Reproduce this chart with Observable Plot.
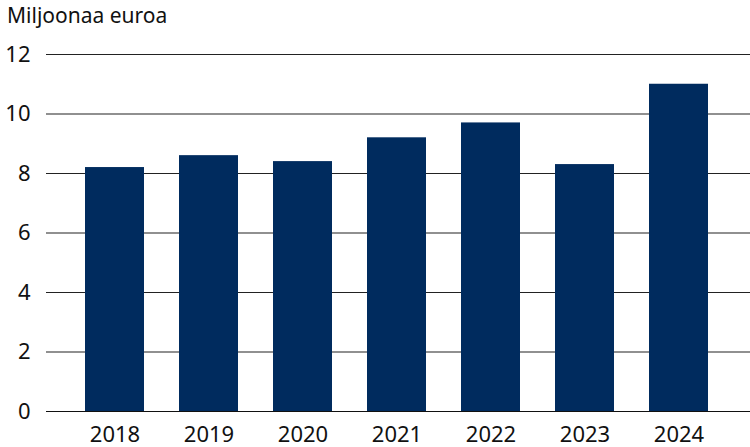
<!DOCTYPE html>
<html>
<head>
<meta charset="utf-8">
<script src="https://cdn.jsdelivr.net/npm/d3@7"></script>
<script src="https://cdn.jsdelivr.net/npm/@observablehq/plot@0.6"></script>
<style>
  html, body { margin: 0; padding: 0; background: #fff; }
  #title { font-family: "Noto Sans", sans-serif; font-size: 21px; line-height: 30px; height: 30px; padding-left: 7px; color: #111; }
  svg { display: block; }
</style>
</head>
<body>
<div id="title">Miljoonaa euroa</div>
<div id="chart"></div>
<script>
const years = ["2018", "2019", "2020", "2021", "2022", "2023", "2024"];
const values = [8.2, 8.6, 8.4, 9.2, 9.7, 8.3, 11.0];
const yTicks = [0, 2, 4, 6, 8, 10, 12];

const data = years.map((year, i) => ({year, value: values[i]}));

const chart = Plot.plot({
  width: 750,
  height: 417,
  marginTop: 24,
  marginBottom: 36,
  marginLeft: 46,
  marginRight: 0,
  style: {fontFamily: "Noto Sans, sans-serif", fontSize: "22px", color: "#111", background: "#fff"},
  x: {domain: years, paddingInner: 0.372, paddingOuter: 0.415, insetRight: 2, label: null, tickSize: 0, tickPadding: 15},
  y: {domain: [0, 12], ticks: yTicks, label: null, tickSize: 0, tickPadding: 16},
  marks: [
    Plot.ruleY(yTicks.filter(d => d > 0), {stroke: "#222", strokeWidth: 1.2}),
    Plot.barY(data, {x: "year", y: "value", fill: "#002b5e"}),
    Plot.ruleY([0], {stroke: "#111", strokeWidth: 1.2}),
    Plot.axisX({tickSize: 0, tickPadding: 15, fontSize: 22}),
    Plot.axisY({ticks: yTicks, tickSize: 0, tickPadding: 16, fontSize: 22})
  ]
});
document.getElementById("chart").appendChild(chart);
</script>
</body>
</html>
